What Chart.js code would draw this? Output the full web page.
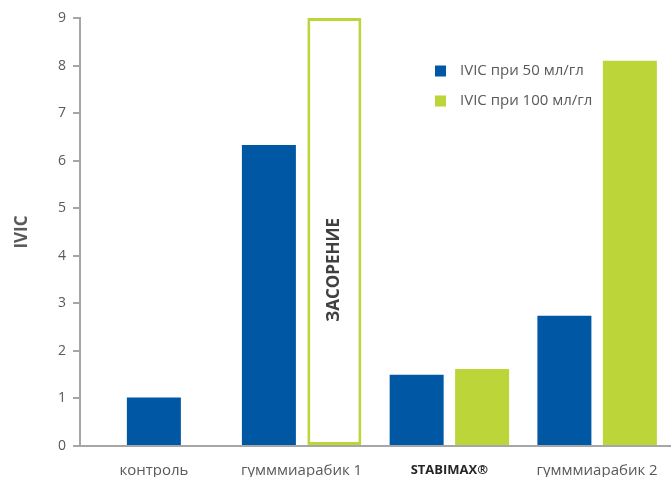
<!DOCTYPE html>
<html>
<head>
<meta charset="utf-8">
<script src="https://cdn.jsdelivr.net/npm/chart.js@4.4.1/dist/chart.umd.min.js"></script>
<style>
  html, body { margin: 0; padding: 0; background: #fff; }
</style>
</head>
<body>
<canvas id="ivicChart" width="671" height="477"></canvas>
<script>
// данные
const categories = ['контроль', 'гумммиарабик 1', 'STABIMAX®', 'гумммиарабик 2'];
const ivic50 = [1.02, 6.33, 1.5, 2.74];
const ivic100 = [null, 9, 1.62, 8.1];
const seriesLabels = ['IVIC при 50 мл/гл', 'IVIC при 100 мл/гл'];
const yTicks = [0, 1, 2, 3, 4, 5, 6, 7, 8, 9];
const clogIndex = 1;            // столбец, который не измерен (засорение)
const clogText = 'ЗАСОРЕНИЕ';

const blue = '#0057a4';
const green = '#bcd63a';
const grey = '#595959';
const axisGrey = '#a6a6a6';
const fontFamily = '"Open Sans", sans-serif';

// надпись внутри пустого столбца и легенда внутри графика
const overlayPlugin = {
  id: 'overlay',
  afterDatasetsDraw(chart) {
    const ctx = chart.ctx;
    const area = chart.chartArea;
    const bar = chart.getDatasetMeta(1).data[clogIndex];

    ctx.save();
    ctx.translate(bar.x, bar.base - (bar.base - bar.y) * 0.41);
    ctx.rotate(-Math.PI / 2);
    ctx.font = 'bold 17px ' + fontFamily;
    ctx.fillStyle = '#404040';
    ctx.textAlign = 'center';
    ctx.textBaseline = 'middle';
    ctx.fillText(clogText, 0, 0);
    ctx.restore();

    // легенда
    const colors = [blue, green];
    ctx.save();
    ctx.font = '15px ' + fontFamily;
    ctx.textBaseline = 'middle';
    seriesLabels.forEach(function(label, i) {
      const y = area.top + 53 + i * 30;
      ctx.fillStyle = colors[i];
      ctx.fillRect(area.left + 355, y - 5.5, 11, 11);
      ctx.fillStyle = grey;
      ctx.fillText(label, area.left + 380, y);
    });
    ctx.restore();
  }
};

const ctx = document.getElementById('ivicChart').getContext('2d');
const ivicChart = new Chart(ctx, {
  type: 'bar',
  data: {
    labels: categories,
    datasets: [{
      label: seriesLabels[0],
      data: ivic50,
      backgroundColor: blue,
      borderWidth: 0
    }, {
      label: seriesLabels[1],
      data: ivic100,
      backgroundColor: ivic100.map((v, i) => i === clogIndex ? '#ffffff' : green),
      borderColor: green,
      borderWidth: ivic100.map((v, i) => i === clogIndex ? 3 : 0),
      borderSkipped: false
    }]
  },
  options: {
    responsive: false,
    animation: false,
    skipNull: true,
    categoryPercentage: 0.886,
    barPercentage: 0.83,
    maxBarThickness: 54,
    layout: { padding: { top: 18, right: 0, left: 0, bottom: 0 } },
    plugins: {
      legend: { display: false },
      tooltip: { enabled: false }
    },
    scales: {
      x: {
        grid: { display: false },
        border: { color: axisGrey, width: 2 },
        ticks: {
          padding: 8,
          color: (c) => c.index === 2 ? '#262626' : grey,
          font: (c) => c.index === 2
            ? { family: fontFamily, size: 13, weight: 'bold' }
            : { family: fontFamily, size: 15 }
        },
        afterFit: (scale) => { scale.height = 31; }
      },
      y: {
        min: 0,
        max: 9,
        afterBuildTicks: (scale) => { scale.ticks = yTicks.map(v => ({ value: v })); },
        grid: { drawOnChartArea: false, tickLength: 7, color: axisGrey, lineWidth: 2 },
        border: { color: axisGrey, width: 2 },
        ticks: { padding: 7, color: grey, font: { family: fontFamily, size: 14 } },
        title: {
          display: true,
          text: 'IVIC',
          color: grey,
          font: { family: fontFamily, size: 17, weight: 'bold' },
          padding: { top: 12, bottom: 0 }
        },
        afterFit: (scale) => { scale.width = 80; }
      }
    }
  },
  plugins: [overlayPlugin]
});
</script>
</body>
</html>
